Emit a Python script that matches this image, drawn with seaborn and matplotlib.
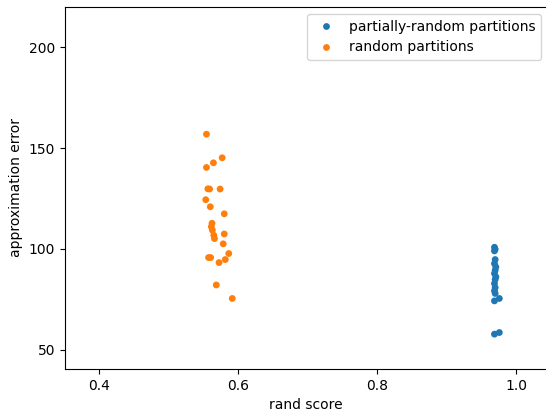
import matplotlib
matplotlib.use("Agg")
import matplotlib.pyplot as plt
import seaborn as sns
import pandas as pd

partial_rand = [0.969, 0.970, 0.969, 0.970, 0.969, 0.971, 0.970, 0.969, 0.971, 0.970,
                0.969, 0.970, 0.969, 0.970, 0.976, 0.969, 0.976, 0.969]
partial_err = [100.8, 99.8, 99.0, 94.7, 92.7, 91.0, 89.4, 87.8, 86.1, 84.8,
               82.8, 80.8, 79.2, 77.9, 75.4, 74.2, 58.5, 57.7]

random_rand = [0.5546, 0.5772, 0.5646, 0.5546, 0.5566, 0.5591, 0.5742, 0.5536, 0.5601, 0.5802,
               0.5626, 0.5616, 0.5631, 0.5651, 0.5661, 0.5802, 0.5787, 0.5867, 0.5576, 0.5606,
               0.5817, 0.5727, 0.5687, 0.5917]
random_err = [156.9, 145.2, 142.7, 140.4, 129.8, 129.7, 129.7, 124.4, 120.9, 117.4,
              112.7, 111.0, 109.3, 106.8, 105.1, 107.4, 102.5, 97.7, 95.7, 95.7,
              94.7, 93.2, 82.1, 75.4]

labels = ["partially-random partitions", "random partitions"]

df = pd.DataFrame({
    "rand score": partial_rand + random_rand,
    "approximation error": partial_err + random_err,
    "kind": [labels[0]] * len(partial_rand) + [labels[1]] * len(random_rand),
})

fig, ax = plt.subplots(figsize=(5.46, 4.13), dpi=100)
fig.subplots_adjust(left=0.119, right=1.003, top=0.983, bottom=0.107)
sns.scatterplot(data=df, x="rand score", y="approximation error", hue="kind",
                hue_order=labels, palette=["#1f77b4", "#ff7f0e"], s=24,
                linewidth=0, ax=ax)
ax.set_xlim(0.351, 1.0455)
ax.set_ylim(40.5, 220)
ax.set_xticks([0.4, 0.6, 0.8, 1.0])
ax.set_yticks([50, 100, 150, 200])
ax.set_xlabel("rand score")
ax.set_ylabel("approximation error")
ax.legend(loc="upper right", title=None, handletextpad=0.6)
fig.savefig("out.png", dpi=100)
